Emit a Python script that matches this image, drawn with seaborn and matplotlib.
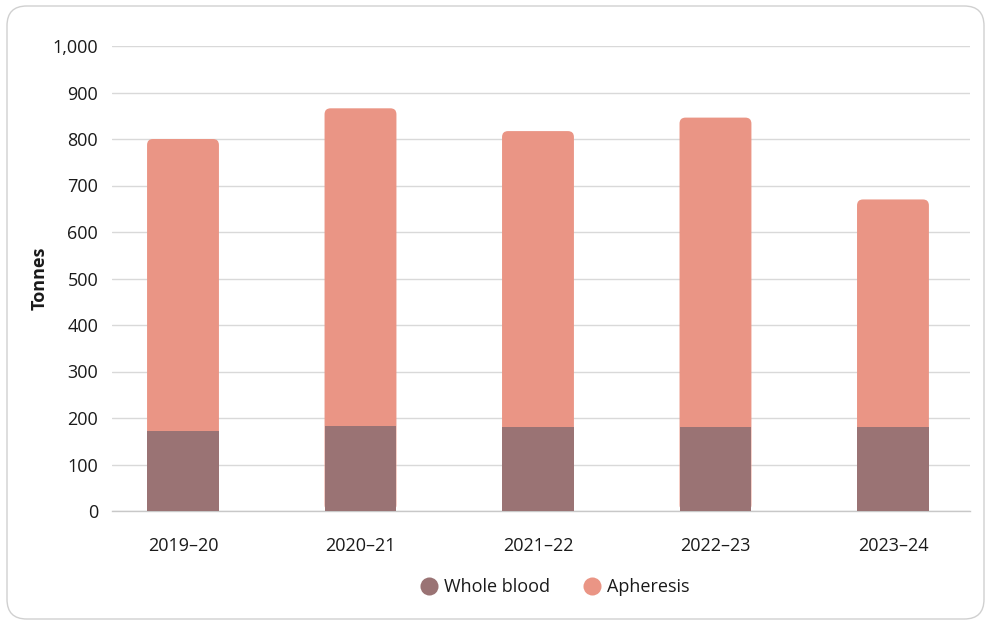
import matplotlib
matplotlib.use("Agg")
import matplotlib.pyplot as plt
import seaborn as sns
import numpy as np
from matplotlib.patches import FancyBboxPatch
from matplotlib.lines import Line2D

years = ["2019\u201320", "2020\u201321", "2021\u201322", "2022\u201323", "2023\u201324"]
whole_blood = [171, 182, 180, 180, 180]
apheresis = [629, 684, 637, 666, 490]
totals = [w + a for w, a in zip(whole_blood, apheresis)]
yticks = [0, 100, 200, 300, 400, 500, 600, 700, 800, 900, 1000]
ytick_labels = ["0", "100", "200", "300", "400", "500", "600", "700", "800", "900", "1,000"]

WB_COLOR = "#9A7374"
APH_COLOR = "#EA9585"
GRID = "#D9D9D9"
TEXT = "#1A1A1A"

sns.set_style("white")
plt.rcParams["font.family"] = ["Open Sans", "DejaVu Sans"]

fig = plt.figure(figsize=(9.86, 6.25), dpi=100)
ax = fig.add_axes([112/986, 1-511/625, (970-112)/986, (511-46)/625])

bw = 0.405
sns.barplot(x=years, y=totals, color=APH_COLOR, saturation=1, width=bw, ax=ax,
            zorder=2, edgecolor="none", linewidth=0)
n_aph = len(ax.patches)
sns.barplot(x=years, y=whole_blood, color=WB_COLOR, saturation=1, width=bw, ax=ax,
            zorder=3, edgecolor="none", linewidth=0)

XLIM = (-0.40, 4.434)
ax.set_xlim(*XLIM)
ax.set_ylim(0, 1000)

# round the top corners of the apheresis bars
px_x = 858 / (XLIM[1] - XLIM[0])   # pixels per x unit
px_y = 465 / 1000                  # pixels per y unit
for p in list(ax.patches[:n_aph]):
    x, y = p.get_x(), p.get_y()
    w, h = p.get_width(), p.get_height()
    fb = FancyBboxPatch((x, y), w, h,
                        boxstyle="round,pad=0,rounding_size=%f" % (6/px_x),
                        mutation_aspect=(1/px_y)/(1/px_x),
                        facecolor=APH_COLOR, edgecolor="none", zorder=2)
    p.set_visible(False)
    ax.add_patch(fb)

ax.set_yticks(yticks)
ax.set_yticklabels(ytick_labels)
ax.yaxis.grid(True, color=GRID, linewidth=1, zorder=0)
ax.set_axisbelow(True)
for s in ["top", "right", "left"]:
    ax.spines[s].set_visible(False)
ax.spines["bottom"].set_color("#C8C8C8")
ax.spines["bottom"].set_linewidth(1)

ax.tick_params(axis="y", length=0, pad=10, labelsize=13, labelcolor=TEXT)
ax.tick_params(axis="x", which="major", length=0, pad=19, labelsize=13, labelcolor=TEXT)
ax.set_xticks([0.5, 1.5, 2.5, 3.5], minor=True)
ax.tick_params(axis="x", which="minor", length=7.5, width=1, color="#C8C8C8")

ax.set_xlabel("")
ax.set_ylabel("Tonnes", fontsize=13, fontweight="bold", color=TEXT, labelpad=3)

handles = [Line2D([], [], marker="o", linestyle="none", markersize=13,
                  markerfacecolor=WB_COLOR, markeredgecolor="none", label="Whole blood"),
           Line2D([], [], marker="o", linestyle="none", markersize=13,
                  markerfacecolor=APH_COLOR, markeredgecolor="none", label="Apheresis")]
fig.legend(handles=handles, loc="center", bbox_to_anchor=(550/986, 1-587/625),
           ncol=2, frameon=False, fontsize=13, handletextpad=-0.15, columnspacing=1.3,
           labelcolor=TEXT)

# outer rounded border
border = FancyBboxPatch((7/986, 6/625), 977/986, 613/625,
                        boxstyle="round,pad=0,rounding_size=0.02",
                        transform=fig.transFigure, facecolor="none",
                        edgecolor="#D0D0D0", linewidth=1, mutation_aspect=986/625)
fig.patches.append(border)

ax.set_xlim(*XLIM)
fig.savefig("out.png", dpi=100)
